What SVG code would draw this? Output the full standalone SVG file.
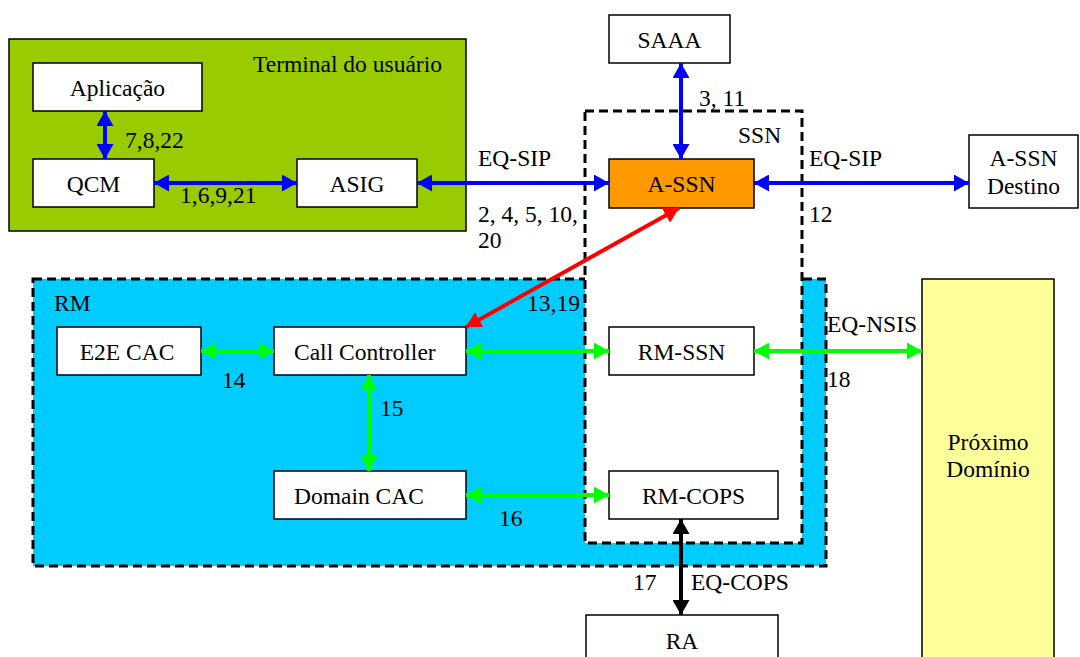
<svg xmlns="http://www.w3.org/2000/svg" width="1080" height="657" viewBox="0 0 1080 657">
<style>
text{font-family:"Liberation Serif","DejaVu Serif","Noto Serif",serif;font-size:23.5px;fill:#000}
.c{text-anchor:middle}
.box{fill:#fff;stroke:#000;stroke-width:1.5}
.dash{stroke:#000;stroke-width:3;stroke-dasharray:9 5}
.b{stroke:#0000FF;stroke-width:4;fill:none;marker-start:url(#ab);marker-end:url(#ab)}
.g{stroke:#00FF00;stroke-width:4;fill:none;marker-start:url(#ag);marker-end:url(#ag)}
.r{stroke:#FF0000;stroke-width:4;fill:none;marker-start:url(#ar);marker-end:url(#ar)}
.k{stroke:#000;stroke-width:4;fill:none;marker-start:url(#ak);marker-end:url(#ak)}
</style>
<defs>
<marker id="ab" markerUnits="userSpaceOnUse" markerWidth="16" markerHeight="17" refX="15" refY="8.5" orient="auto-start-reverse"><path d="M0,0 L15,8.5 L0,17 z" fill="#0000FF"/></marker>
<marker id="ag" markerUnits="userSpaceOnUse" markerWidth="16" markerHeight="17" refX="15" refY="8.5" orient="auto-start-reverse"><path d="M0,0 L15,8.5 L0,17 z" fill="#00FF00"/></marker>
<marker id="ar" markerUnits="userSpaceOnUse" markerWidth="16" markerHeight="17" refX="15" refY="8.5" orient="auto-start-reverse"><path d="M0,0 L15,8.5 L0,17 z" fill="#FF0000"/></marker>
<marker id="ak" markerUnits="userSpaceOnUse" markerWidth="16" markerHeight="17" refX="15" refY="8.5" orient="auto-start-reverse"><path d="M0,0 L15,8.5 L0,17 z" fill="#000"/></marker>
</defs>
<rect width="1080" height="657" fill="#fff"/>
<g id="terminal">
<rect x="9" y="39" width="457" height="192" fill="#99CC00" stroke="#000" stroke-width="1.5"/>
<text x="253" y="72">Terminal do usuário</text>
</g>
<g id="rm">
<rect x="33" y="279" width="793" height="287" fill="#00CCFF" class="dash"/>
<text x="54" y="311">RM</text>
</g>
<g id="ssn">
<rect x="585" y="111" width="217" height="432" fill="#fff" class="dash"/>
<text x="738" y="143">SSN</text>
</g>
<g id="proximo">
<rect x="922" y="279" width="132" height="390" fill="#FFFF99" stroke="#000" stroke-width="1.5"/>
<text class="c" x="988" y="450">Próximo</text>
<text class="c" x="988" y="477">Domínio</text>
</g>

<g id="aplicacao"><rect class="box" x="33" y="63" width="169" height="48"/><text class="c" x="117.5" y="96">Aplicação</text></g>
<g id="qcm"><rect class="box" x="33" y="159" width="121" height="48"/><text class="c" x="93.5" y="192">QCM</text></g>
<g id="asig"><rect class="box" x="297" y="159" width="120" height="48"/><text class="c" x="357" y="192">ASIG</text></g>
<g id="saaa"><rect class="box" x="609" y="15" width="121" height="48"/><text class="c" x="669.5" y="48">SAAA</text></g>
<g id="a-ssn"><rect x="609" y="159" width="145" height="49" fill="#FF9900" stroke="#000" stroke-width="1.5"/><text class="c" x="681.5" y="192">A-SSN</text></g>
<g id="a-ssn-destino"><rect class="box" x="969" y="135" width="109" height="73"/><text class="c" x="1023.5" y="166">A-SSN</text><text class="c" x="1023.5" y="194">Destino</text></g>
<g id="e2e-cac"><rect class="box" x="57" y="327" width="144" height="48"/><text class="c" x="127" y="360">E2E CAC</text></g>
<g id="call-controller"><rect class="box" x="274" y="327" width="192" height="48"/><text x="294" y="360">Call Controller</text></g>
<g id="domain-cac"><rect class="box" x="274" y="471" width="192" height="48"/><text x="294" y="504">Domain CAC</text></g>
<g id="rm-ssn"><rect class="box" x="609" y="327" width="145" height="48"/><text class="c" x="681.5" y="360">RM-SSN</text></g>
<g id="rm-cops"><rect class="box" x="609" y="471" width="169" height="48"/><text class="c" x="693.5" y="504">RM-COPS</text></g>
<g id="ra"><rect class="box" x="586" y="615" width="192" height="60"/><text class="c" x="682" y="649">RA</text></g>

<g id="connectors">
<line class="b" x1="105" y1="111" x2="105" y2="159"/>
<line class="b" x1="154" y1="183" x2="297" y2="183"/>
<line class="b" x1="417" y1="183" x2="609" y2="183"/>
<line class="b" x1="681" y1="63" x2="681" y2="159"/>
<line class="b" x1="754" y1="183" x2="969" y2="183"/>
<line class="r" x1="679" y1="208" x2="466" y2="327"/>
<line class="g" x1="201" y1="351" x2="274" y2="351"/>
<line class="g" x1="466" y1="351" x2="609" y2="351"/>
<line class="g" x1="369" y1="375" x2="369" y2="471"/>
<line class="g" x1="466" y1="495" x2="609" y2="495"/>
<line class="g" x1="754" y1="351" x2="922" y2="351"/>
<line class="k" x1="681" y1="519" x2="681" y2="615"/>
</g>

<g id="labels">
<text x="125" y="148">7,8,22</text>
<text x="180" y="203">1,6,9,21</text>
<text x="478" y="166">EQ-SIP</text>
<text x="478" y="222">2, 4, 5, 10,</text>
<text x="478" y="248">20</text>
<text x="699" y="106">3, 11</text>
<text x="809" y="166">EQ-SIP</text>
<text x="809" y="222">12</text>
<text x="527" y="311">13,19</text>
<text x="222" y="388">14</text>
<text x="380" y="416">15</text>
<text x="499" y="526">16</text>
<text x="827" y="332">EQ-NSIS</text>
<text x="827" y="387">18</text>
<text x="633" y="590">17</text>
<text x="691" y="590">EQ-COPS</text>
</g>
</svg>
